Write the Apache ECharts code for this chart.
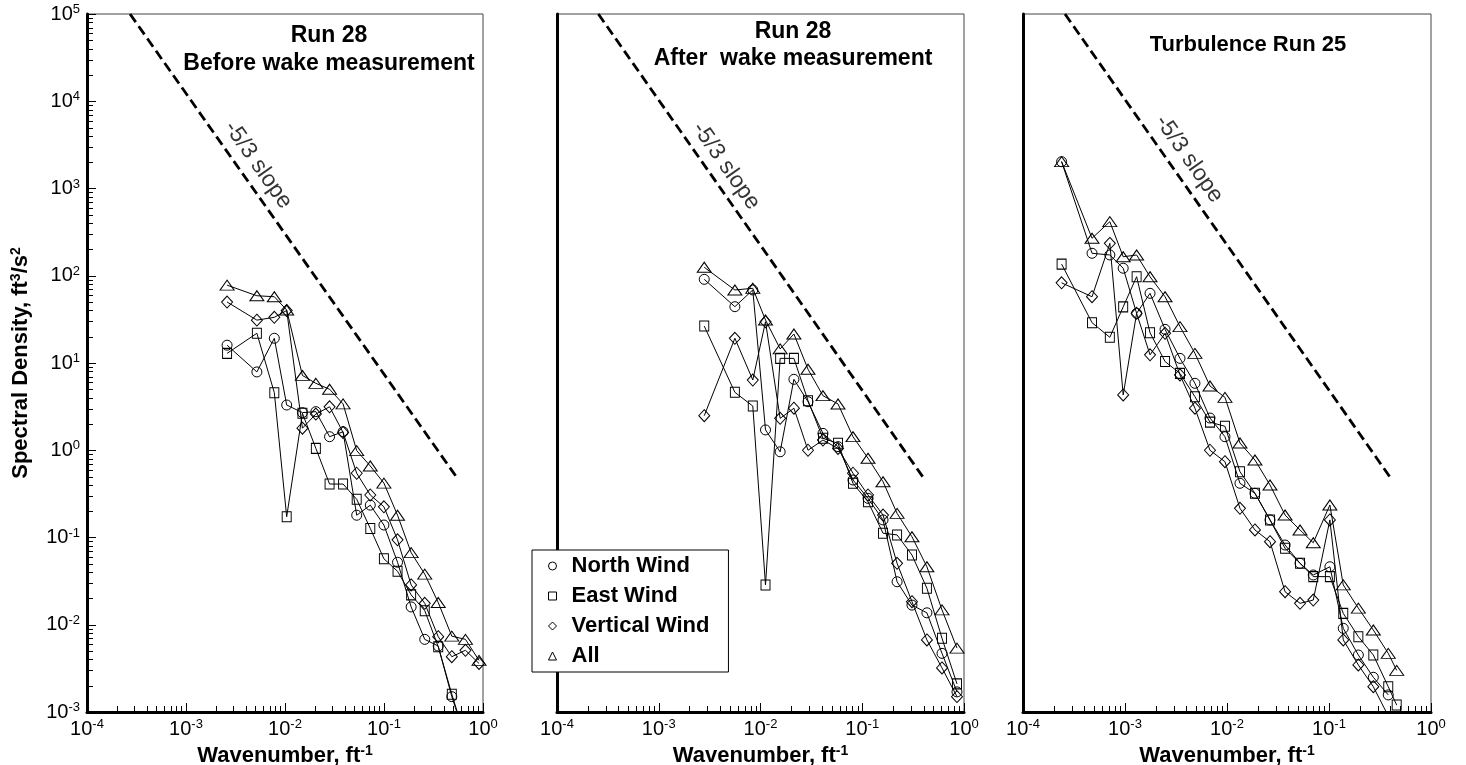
<!DOCTYPE html>
<html>
<head>
<meta charset="utf-8">
<title>Wind spectra</title>
<script src="https://cdn.jsdelivr.net/npm/echarts@6/dist/echarts.min.js"></script>
<style>
  html, body { margin: 0; padding: 0; background: #fff; }
  #chart { width: 1466px; height: 765px; }
</style>
</head>
<body>
<div id="chart"></div>
<script>
// ---- Run 28, before wake measurement ----
const p1Wavenumber = [0.0026, 0.0052, 0.0078, 0.0104, 0.0150, 0.0205, 0.0282, 0.0386, 0.0530, 0.0727, 0.0998, 0.137, 0.188, 0.258, 0.353, 0.484, 0.665, 0.912];
const p1North    = [16.0, 7.9, 19.2, 3.3, 2.7, 2.77, 1.43, 1.63, 0.18, 0.235, 0.139, 0.052, 0.016, 0.0068, 0.0057, 0.0015, 0.0005];
const p1East     = [12.9, 21.9, 4.57, 0.173, 2.65, 1.05, 0.41, 0.41, 0.274, 0.127, 0.057, 0.041, 0.022, 0.0145, 0.0056, 0.0016, 0.0005];
const p1Vertical = [50, 31, 33.4, 40, 1.79, 2.6, 3.15, 1.6, 0.545, 0.307, 0.225, 0.094, 0.0286, 0.0176, 0.0073, 0.0043, 0.0051, 0.0036];
const p1All      = [78, 59, 57.5, 40.5, 7.2, 5.85, 5.0, 3.4, 0.99, 0.66, 0.42, 0.18, 0.067, 0.038, 0.018, 0.0074, 0.0068, 0.0039];

// ---- Run 28, after wake measurement ----
const p2Wavenumber = [0.0028, 0.0056, 0.0084, 0.0112, 0.0156, 0.0213, 0.0293, 0.0411, 0.0578, 0.0811, 0.114, 0.160, 0.220, 0.308, 0.432, 0.608, 0.853];
const p2North    = [91, 44.2, 68.7, 1.71, 0.96, 6.5, 3.6, 1.56, 1.10, 0.456, 0.281, 0.159, 0.0311, 0.0168, 0.0137, 0.0047, 0.0017];
const p2East     = [26.5, 4.61, 3.21, 0.0286, 11.3, 11.3, 3.70, 1.37, 1.20, 0.418, 0.257, 0.112, 0.107, 0.063, 0.0262, 0.0070, 0.0021];
const p2Vertical = [2.49, 19.2, 6.38, 29.7, 2.32, 3.03, 1.0, 1.31, 1.05, 0.545, 0.307, 0.181, 0.0506, 0.0184, 0.0067, 0.0032, 0.0015];
const p2All      = [125, 68.7, 71.8, 31.1, 14.5, 21.5, 8.47, 4.22, 3.39, 1.43, 0.81, 0.436, 0.189, 0.102, 0.0462, 0.0148, 0.0054];

// ---- Turbulence run 25 ----
const p3Wavenumber = [0.000239, 0.000475, 0.00071, 0.00096, 0.00130, 0.00176, 0.00247, 0.00346, 0.00485, 0.00681, 0.00955, 0.0134, 0.0188, 0.0264, 0.0371, 0.052, 0.0701, 0.102, 0.138, 0.194, 0.272, 0.381, 0.461];
const p3North    = [2030, 181, 173, 122, 37.1, 62.9, 24.3, 11.3, 5.85, 2.34, 1.43, 0.418, 0.321, 0.159, 0.082, 0.0506, 0.0372, 0.0462, 0.0091, 0.0045, 0.0025, 0.00157];
const p3East     = [136, 29, 19.7, 44, 97.5, 22.2, 10.4, 7.6, 4.11, 2.10, 1.88, 0.568, 0.321, 0.159, 0.0752, 0.0506, 0.0356, 0.0356, 0.0135, 0.0073, 0.0045, 0.00195, 0.0012];
const p3Vertical = [83, 57.5, 235, 4.3, 37.1, 12.4, 21.9, 7.3, 3.03, 1.0, 0.74, 0.216, 0.122, 0.0895, 0.0239, 0.0176, 0.0192, 0.159, 0.0067, 0.00346, 0.00195, 0.0009];
const p3All      = [2030, 269, 417, 165, 173, 97.5, 57.5, 26.1, 12.9, 5.45, 4.04, 1.21, 0.773, 0.40, 0.181, 0.122, 0.087, 0.236, 0.0286, 0.0155, 0.0087, 0.0047, 0.0030];

// -5/3 reference lines (end points) and where their captions sit
const slopeLines = [
  [[2.72e-4, 1e5], [0.558, 0.468]],
  [[2.55e-4, 1e5], [0.414, 0.456]],
  [[2.58e-4, 1e5], [0.415, 0.456]]
];
const slopeCaptionAt = [[5.33e-3, 1860], [4.58e-3, 1810], [4.24e-3, 2180]];
const slopeCaption = '-5/3 slope';

// axis decades (tick labels are 10^e)
const xTickExponents = [-4, -3, -2, -1, 0];
const yTickExponents = [-3, -2, -1, 0, 1, 2, 3, 4, 5];

const seriesNames = ['North Wind', 'East Wind', 'Vertical Wind', 'All'];
const panelTitles = [
  ['Run 28', 'Before wake measurement'],
  ['Run 28', 'After  wake measurement'],
  ['Turbulence Run 25']
];

const panels = [
  { k: p1Wavenumber, values: [p1North, p1East, p1Vertical, p1All] },
  { k: p2Wavenumber, values: [p2North, p2East, p2Vertical, p2All] },
  { k: p3Wavenumber, values: [p3North, p3East, p3Vertical, p3All] }
];

const FONT = 'Arial, "Liberation Sans", Helvetica, sans-serif';
const X_MIN = Math.pow(10, xTickExponents[0]);
const X_MAX = Math.pow(10, xTickExponents[xTickExponents.length - 1]);
const Y_MIN = Math.pow(10, yTickExponents[0]);
const Y_MAX = Math.pow(10, yTickExponents[yTickExponents.length - 1]);

const markers = {
  'North Wind':    { symbol: 'circle',   size: 10 },
  'East Wind':     { symbol: 'rect',     size: [9, 10] },
  'Vertical Wind': { symbol: 'diamond',  size: [11, 12] },
  'All':           { symbol: 'triangle', size: [14, 10] }
};

// minor ticks at 2..9 x 10^e inside each decade
function minorTickValues(lo, hi) {
  const out = [];
  for (let e = lo; e < hi; e++) {
    for (let m = 2; m <= 9; m++) out.push(m * Math.pow(10, e));
  }
  return out;
}
const xMinorTicks = minorTickValues(xTickExponents[0], xTickExponents[xTickExponents.length - 1]);
const yMinorTicks = minorTickValues(yTickExponents[0], yTickExponents[yTickExponents.length - 1]);

const powerLabel = v => '{b|10}{s|' + Math.round(Math.log10(v)) + '}';
const labelRich = {
  b: { fontSize: 20, fontFamily: FONT, color: '#000', lineHeight: 22 },
  s: { fontSize: 13, fontFamily: FONT, color: '#000', verticalAlign: 'top', lineHeight: 14 }
};
const nameRich = {
  n: { fontSize: 22, fontWeight: 'bold', fontFamily: FONT, color: '#000', lineHeight: 24 },
  s: { fontSize: 14, fontWeight: 'bold', fontFamily: FONT, color: '#000', verticalAlign: 'top', lineHeight: 14 }
};

const grids = [
  { left: 87,   top: 14, width: 396, height: 698 },
  { left: 557,  top: 14, width: 407, height: 698 },
  { left: 1023, top: 14, width: 408, height: 698 }
].map(g => Object.assign(g, { show: true, borderColor: '#444', borderWidth: 1, backgroundColor: 'transparent', containLabel: false, outerBoundsMode: 'none' }));

const xAxes = grids.map((g, i) => ({
  type: 'log', logBase: 10, gridIndex: i, min: X_MIN, max: X_MAX,
  axisLine: { show: true, onZero: false, lineStyle: { color: '#000', width: 3 } },
  axisTick: { show: true, inside: true, length: 9, lineStyle: { color: '#000', width: 1 } },
  axisLabel: { show: true, margin: 6, formatter: powerLabel, rich: labelRich, showMinLabel: true, showMaxLabel: true },
  splitLine: { show: false },
  minorTick: { show: false },
  name: '{n|Wavenumber, ft}{s|-1}',
  nameLocation: 'middle', nameGap: 25,
  nameTextStyle: { rich: nameRich }
}));

const yAxes = grids.map((g, i) => ({
  type: 'log', logBase: 10, gridIndex: i, min: Y_MIN, max: Y_MAX,
  axisLine: { show: true, onZero: false, lineStyle: { color: '#000', width: 3 } },
  axisTick: { show: i === 0, inside: true, length: 9, lineStyle: { color: '#000', width: 1 } },
  axisLabel: { show: i === 0, margin: 7, formatter: powerLabel, rich: labelRich, showMinLabel: true, showMaxLabel: true },
  splitLine: { show: false },
  minorTick: { show: false },
  name: i === 0 ? '{n|Spectral Density, ft}{s|3}{n|/s}{s|2}' : '',
  nameLocation: 'middle', nameRotate: 90, nameGap: 54,
  nameTextStyle: { rich: nameRich }
}));

const series = [];

panels.forEach((panel, i) => {
  seriesNames.forEach((name, j) => {
    const vals = panel.values[j];
    series.push({
      type: 'line', name: name,
      xAxisIndex: i, yAxisIndex: i,
      data: vals.map((v, n) => [panel.k[n], v]),
      symbol: markers[name].symbol,
      symbolSize: markers[name].size,
      showAllSymbol: true,
      clip: true,
      lineStyle: { color: '#000', width: 1 },
      itemStyle: { color: 'rgba(0,0,0,0)', borderColor: '#000', borderWidth: 1 },
      emphasis: { disabled: true },
      z: 3
    });
  });

  // -5/3 reference line
  series.push({
    type: 'line', name: 'slope' + i,
    xAxisIndex: i, yAxisIndex: i,
    data: slopeLines[i],
    symbol: 'none', clip: true, silent: true,
    lineStyle: { color: '#000', width: 2.8, type: [10, 5] },
    z: 2
  });

  // caption of the reference line
  series.push({
    type: 'scatter', name: 'slopeCaption' + i,
    xAxisIndex: i, yAxisIndex: i,
    data: [slopeCaptionAt[i]],
    symbolSize: 0, silent: true,
    label: {
      show: true, position: 'inside', rotate: -55,
      formatter: slopeCaption,
      fontSize: 23, fontFamily: FONT, color: '#000'
    },
    z: 4
  });

  // minor ticks on the wavenumber axis
  series.push({
    type: 'custom', name: 'xMinor' + i,
    xAxisIndex: i, yAxisIndex: i, silent: true, clip: false, z: 6,
    data: xMinorTicks.map(v => [v, Y_MIN]),
    renderItem: (params, api) => {
      const c = api.coord([api.value(0), api.value(1)]);
      const x = Math.round(c[0]) + 0.5;
      return { type: 'line', shape: { x1: x, y1: c[1], x2: x, y2: c[1] - 6 }, style: { stroke: '#000', lineWidth: 1 } };
    }
  });
});

// minor ticks on the spectral density axis (first panel only)
series.push({
  type: 'custom', name: 'yMinor',
  xAxisIndex: 0, yAxisIndex: 0, silent: true, clip: false, z: 6,
  data: yMinorTicks.map(v => [X_MIN, v]),
  renderItem: (params, api) => {
    const c = api.coord([api.value(0), api.value(1)]);
    const y = Math.round(c[1]) + 0.5;
    return { type: 'line', shape: { x1: c[0], y1: y, x2: c[0] + 6, y2: y }, style: { stroke: '#000', lineWidth: 1 } };
  }
});

// panel titles
const titleCenters = [[329, [36, 64]], [793, [32, 59]], [1248, [45]]];
const titleSizes = [23, 23, 22];
const graphics = [];
panelTitles.forEach((lines, i) => {
  lines.forEach((t, n) => {
    graphics.push({
      type: 'text', x: titleCenters[i][0], y: titleCenters[i][1][n], z: 10,
      style: {
        text: t, textAlign: 'center', textVerticalAlign: 'middle',
        fontSize: titleSizes[i], fontWeight: 'bold', fontFamily: FONT, fill: '#000'
      }
    });
  });
});

const chart = echarts.init(document.getElementById('chart'), null, { renderer: 'canvas' });
chart.setOption({
  animation: false,
  backgroundColor: '#fff',
  grid: grids,
  xAxis: xAxes,
  yAxis: yAxes,
  legend: {
    orient: 'vertical', left: 532, top: 550,
    padding: [5, 19, 5, 16], itemGap: 8,
    itemWidth: 8, itemHeight: 8,
    borderColor: '#000', borderWidth: 1, backgroundColor: '#fff',
    selectedMode: false,
    itemStyle: { color: 'rgba(0,0,0,0)', borderColor: '#000', borderWidth: 1 },
    textStyle: { fontSize: 22, fontWeight: 'bold', fontFamily: FONT, color: '#000', padding: [0, 0, 0, 10] },
    data: [
      { name: 'North Wind', icon: 'circle' },
      { name: 'East Wind', icon: 'rect' },
      { name: 'Vertical Wind', icon: 'diamond' },
      { name: 'All', icon: 'triangle' }
    ]
  },
  graphic: graphics,
  series: series
});
</script>
</body>
</html>
